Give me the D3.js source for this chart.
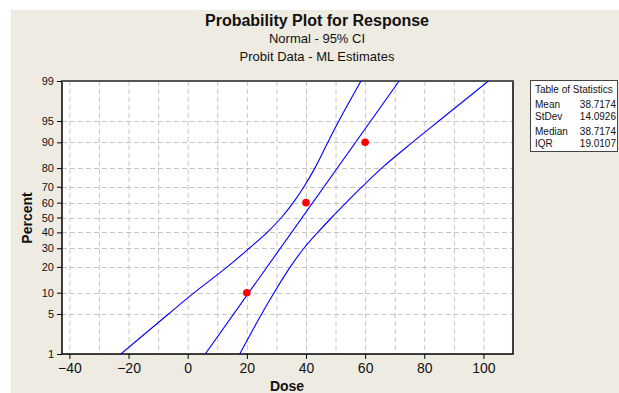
<!DOCTYPE html>
<meta charset="utf-8">
<script src="https://d3js.org/d3.v7.min.js"></script>
<style>
  body { margin: 0; background: #fff; }
  text { font-family: "Liberation Sans", Arial, sans-serif; fill: #111; }
</style>
<div id="chart"></div>
<script>
// data
var percentTicks = [1, 5, 10, 20, 30, 40, 50, 60, 70, 80, 90, 95, 99];
var doseTicks = [-40, -20, 0, 20, 40, 60, 80, 100];
var doseGrid = [-40, -30, -20, -10, 0, 10, 20, 30, 40, 50, 60, 70, 80, 90, 100];

// observed points
var pointDose = [20, 40, 60];
var pointPercent = [10, 60, 90];

// fitted line (ends)
var fitPercent = [1, 99];
var fitDose = [5.94, 71.5];

// 95% CI bands
var bandPercent = [1, 5, 10, 20, 30, 40, 50, 60, 70, 80, 90, 95, 99];
var lowerDose = [-22.6, -6.5, 2.2, 13.4, 20.8, 26.9, 31.7, 35.7, 39.3, 43, 47.4, 51.1, 58.6];
var upperDose = [17.6, 25, 29.2, 34.7, 39.3, 44, 48.7, 53.6, 59, 65.6, 76, 84.9, 101.7];

// statistics table
var statLabels = ["Mean", "StDev", "Median", "IQR"];
var statValues = ["38.7174", "14.0926", "38.7174", "19.0107"];

var W = 619, H = 393;
var plot = {left: 62, right: 513, top: 81, bottom: 354};

// inverse normal cdf (Acklam)
function probit(p) {
  var a = [-39.6968302866538, 220.946098424521, -275.928510446969, 138.357751867269, -30.6647980661472, 2.50662827745924],
      b = [-54.4760987982241, 161.585836858041, -155.698979859887, 66.8013118877197, -13.2806815528857],
      c = [-0.00778489400243029, -0.322396458041136, -2.40075827716184, -2.54973253934373, 4.37466414146497, 2.93816398269878],
      d = [0.00778469570904146, 0.32246712907004, 2.445134137143, 3.75440866190742];
  var q, r;
  if (p < 0.02425) {
    q = Math.sqrt(-2 * Math.log(p));
    return (((((c[0]*q+c[1])*q+c[2])*q+c[3])*q+c[4])*q+c[5]) / ((((d[0]*q+d[1])*q+d[2])*q+d[3])*q+1);
  } else if (p > 1 - 0.02425) {
    q = Math.sqrt(-2 * Math.log(1 - p));
    return -(((((c[0]*q+c[1])*q+c[2])*q+c[3])*q+c[4])*q+c[5]) / ((((d[0]*q+d[1])*q+d[2])*q+d[3])*q+1);
  }
  q = p - 0.5; r = q * q;
  return (((((a[0]*r+a[1])*r+a[2])*r+a[3])*r+a[4])*r+a[5])*q / (((((b[0]*r+b[1])*r+b[2])*r+b[3])*r+b[4])*r+1);
}

var svg = d3.select("#chart").append("svg")
  .attr("width", W).attr("height", H);

// background panel
svg.append("rect").attr("x", 11).attr("y", 10).attr("width", W - 11).attr("height", H - 10)
  .attr("fill", "#eeebe2");

var x = d3.scaleLinear().domain([-42.5, 110]).range([plot.left, plot.right]);
var yLin = d3.scaleLinear().domain([probit(0.01), probit(0.99)]).range([plot.bottom, plot.top]);
var y = function(pct) { return yLin(probit(pct / 100)); };

// plot area
svg.append("rect")
  .attr("x", plot.left).attr("y", plot.top)
  .attr("width", plot.right - plot.left).attr("height", plot.bottom - plot.top)
  .attr("fill", "#fff");

// grid
var grid = svg.append("g").attr("stroke", "#c6c6c6").attr("stroke-dasharray", "5,3").attr("stroke-width", 1);
grid.selectAll("line.v").data(doseGrid).enter().append("line")
  .attr("x1", d => x(d) + 0.5).attr("x2", d => x(d) + 0.5)
  .attr("y1", plot.top).attr("y2", plot.bottom);
grid.selectAll("line.h").data(percentTicks.slice(1, -1)).enter().append("line")
  .attr("x1", plot.left).attr("x2", plot.right)
  .attr("y1", d => Math.round(y(d)) + 0.5).attr("y2", d => Math.round(y(d)) + 0.5);

// axes
var xAxis = svg.append("g")
  .attr("transform", "translate(0," + plot.bottom + ")")
  .call(d3.axisBottom(x).tickValues(doseTicks).tickSize(5).tickPadding(4).tickFormat(d3.format("d")));
xAxis.select(".domain").remove();
xAxis.selectAll("text").style("font-size", "14px").attr("fill", "#222");

var yAxis = svg.append("g")
  .attr("transform", "translate(" + plot.left + ",0)")
  .call(d3.axisLeft(yLin).tickValues(percentTicks.map(p => probit(p / 100)))
    .tickFormat((d, i) => percentTicks[i]).tickSize(5).tickPadding(3));
yAxis.select(".domain").remove();
yAxis.selectAll("text").style("font-size", "11px").attr("fill", "#222");

svg.append("rect")
  .attr("x", plot.left).attr("y", plot.top)
  .attr("width", plot.right - plot.left).attr("height", plot.bottom - plot.top)
  .attr("fill", "none").attr("stroke", "#000").attr("stroke-width", 1.5);
svg.append("line")
  .attr("x1", plot.left).attr("x2", plot.right).attr("y1", plot.top).attr("y2", plot.top)
  .attr("stroke", "#555").attr("stroke-width", 2);

// lines
svg.append("clipPath").attr("id", "clip").append("rect")
  .attr("x", plot.left).attr("y", plot.top)
  .attr("width", plot.right - plot.left).attr("height", plot.bottom - plot.top);

var line = d3.line().x(d => x(d[0])).y(d => y(d[1])).curve(d3.curveCatmullRom);
var lines = svg.append("g").attr("clip-path", "url(#clip)")
  .attr("fill", "none").attr("stroke", "#0000ff").attr("stroke-width", 1.1);
lines.append("path").attr("d", line(fitDose.map((d, i) => [d, fitPercent[i]])));
lines.append("path").attr("d", line(lowerDose.map((d, i) => [d, bandPercent[i]])));
lines.append("path").attr("d", line(upperDose.map((d, i) => [d, bandPercent[i]])));

// points
svg.selectAll("circle.pt").data(pointDose).enter().append("circle")
  .attr("cx", d => x(d)).attr("cy", (d, i) => y(pointPercent[i]))
  .attr("r", 3.8).attr("fill", "#ff0000");

// titles
svg.append("text").attr("x", 317).attr("y", 26).attr("text-anchor", "middle")
  .style("font-size", "16px").style("font-weight", "bold").text("Probability Plot for Response");
svg.append("text").attr("x", 317).attr("y", 43).attr("text-anchor", "middle")
  .style("font-size", "13px").text("Normal - 95% CI");
svg.append("text").attr("x", 317).attr("y", 61).attr("text-anchor", "middle")
  .style("font-size", "13px").text("Probit Data - ML Estimates");

svg.append("text").attr("x", 287).attr("y", 391).attr("text-anchor", "middle")
  .style("font-size", "14px").style("font-weight", "bold").text("Dose");
svg.append("text").attr("transform", "translate(32,218) rotate(-90)").attr("text-anchor", "middle")
  .style("font-size", "14px").style("font-weight", "bold").text("Percent");

// statistics box
var box = svg.append("g");
box.append("rect").attr("x", 530.5).attr("y", 80.5).attr("width", 87).attr("height", 71)
  .attr("fill", "#fff").attr("stroke", "#444").attr("stroke-width", 1);
box.append("text").attr("x", 535).attr("y", 93).style("font-size", "10px").text("Table of Statistics");
box.selectAll("text.lab").data(statLabels).enter().append("text")
  .attr("x", 535).attr("y", (d, i) => [108, 120, 135, 147][i])
  .style("font-size", "10px").text(d => d);
box.selectAll("text.val").data(statValues).enter().append("text")
  .attr("x", 616).attr("y", (d, i) => [108, 120, 135, 147][i]).attr("text-anchor", "end")
  .style("font-size", "10px").text(d => d);
</script>
